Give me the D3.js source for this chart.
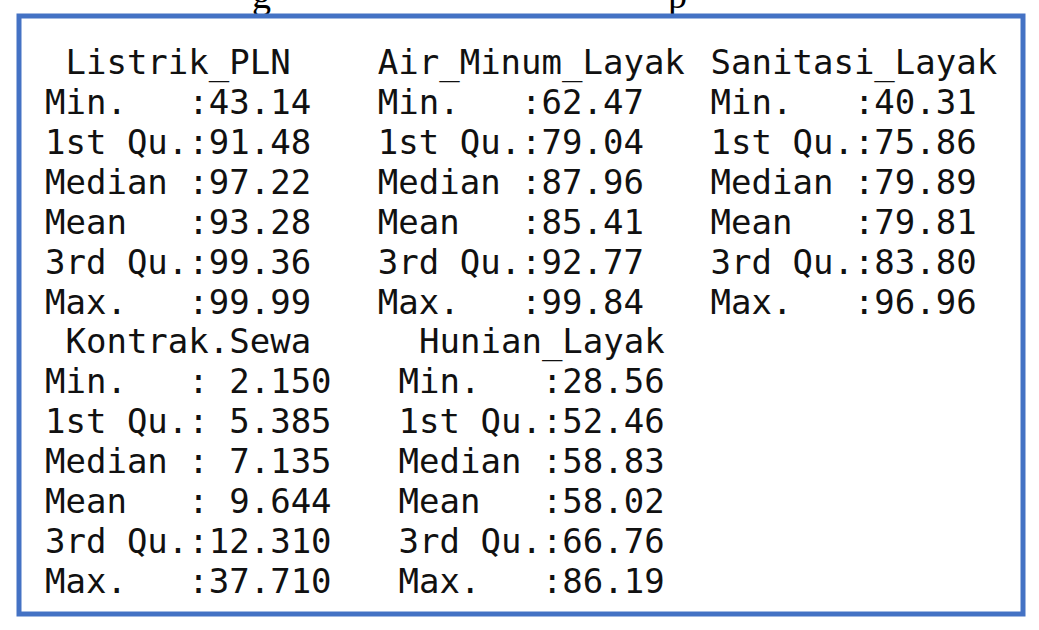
<!DOCTYPE html>
<html>
<head>
<meta charset="utf-8">
<script src="https://cdn.jsdelivr.net/npm/d3@7"></script>
<style>
  body { margin: 0; background: #fff; }
  text { white-space: pre; }
</style>
</head>
<body>
<svg id="chart" width="1039" height="630"></svg>
<script>
// R summary() output, as printed
var statNames = ['Min.   :', '1st Qu.:', 'Median :', 'Mean   :', '3rd Qu.:', 'Max.   :'];

var block1Vars = [' Listrik_PLN', 'Air_Minum_Layak', 'Sanitasi_Layak'];
var block1Vals = [
    ['43.14', '91.48', '97.22', '93.28', '99.36', '99.99'],
    ['62.47', '79.04', '87.96', '85.41', '92.77', '99.84'],
    ['40.31', '75.86', '79.89', '79.81', '83.80', '96.96']
];

var block2Vars = [' Kontrak.Sewa', ' Hunian_Layak'];
var block2Vals = [
    [' 2.150', ' 5.385', ' 7.135', ' 9.644', '12.310', '37.710'],
    ['28.56', '52.46', '58.83', '58.02', '66.76', '86.19']
];

var svg = d3.select('#chart');
var charW = 20.8, lineH = 40;

// cut-off caption above the box (only the descenders show)
svg.append('text').attr('x', 252).attr('y', 8)
    .style('font-family', 'Liberation Serif').style('font-size', '38px').text('g');
svg.append('text').attr('x', 668).attr('y', 8)
    .style('font-family', 'Liberation Serif').style('font-size', '38px').text('p');

svg.append('rect')
    .attr('x', 19).attr('y', 16).attr('width', 1004).attr('height', 598)
    .attr('fill', '#fff').attr('stroke', '#4472C4').attr('stroke-width', 5);

function drawBlock(vars, vals, colChars, top) {
    var x = d3.scaleLinear().domain([0, 1]).range([45, 45 + colChars * charW]);
    var y = d3.scaleLinear().domain([0, 1]).range([top, top + lineH]);
    vars.forEach((name, i) => {
        var g = svg.append('g')
            .style('font-family', '"DejaVu Sans Mono", monospace')
            .style('font-size', '34px')
            .attr('fill', '#111');
        g.append('text').attr('x', x(i)).attr('y', y(0)).text(name);
        g.selectAll('text.v')
            .data(vals[i])
            .join('text')
            .attr('class', 'v')
            .attr('x', x(i))
            .attr('y', (d, j) => y(j + 1))
            .text((d, j) => statNames[j] + d);
    });
}

drawBlock(block1Vars, block1Vals, 16, 74);
drawBlock(block2Vars, block2Vals, 17, 353);
</script>
</body>
</html>
